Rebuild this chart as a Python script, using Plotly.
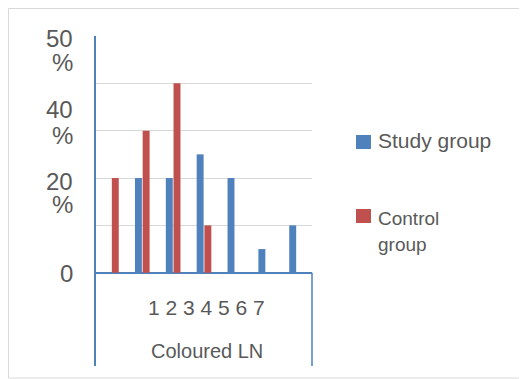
import plotly.graph_objects as go

# ---- data ----
categories = ["1", "2", "3", "4", "5", "6", "7"]
study_group = [0, 20, 20, 25, 20, 5, 10]
control_group = [20, 30, 40, 10, 0, 0, 0]
grid_values = [10, 20, 30, 40, 50]
x_title = "Coloured LN"
series_names = ["Study group", "Control<br>group"]

BLUE = "#4F81BD"
RED = "#C0504D"
TEXT = "#595959"
FONT = "Arial, Liberation Sans, sans-serif"

OFF = 8  # page body margin
W, H = 527 - OFF, 379 - OFF
# plot area in screen pixels: x 96..312, y 36..366
L, T = 96 - OFF, 36 - OFF
R = W - (312 - OFF)
B = H - (366 - OFF)
PW, PH = W - L - R, H - T - B


def px(x):
    return (x - OFF - L) / PW


def py(y):
    return (H - B - (y - OFF)) / PH


fig = go.Figure()
fig.add_trace(go.Bar(x=categories, y=study_group, name="Study group",
                     marker=dict(color=BLUE, line=dict(width=0))))
fig.add_trace(go.Bar(x=categories, y=control_group, name="Control group",
                     marker=dict(color=RED, line=dict(width=0))))

shapes = [
    # outer border
    dict(type="rect", xref="paper", yref="paper", x0=px(8.5), x1=px(545),
         y0=py(378), y1=py(8.5), line=dict(color="#D9D9D9", width=1), layer="below"),
    # right category divider line
    dict(type="line", xref="paper", yref="paper", x0=1, x1=1, y0=0, y1=py(272.7),
         line=dict(color=BLUE, width=1.5)),
    # legend squares
    dict(type="rect", xref="paper", yref="paper", x0=px(356), x1=px(371),
         y0=py(149), y1=py(135), fillcolor=BLUE, line=dict(width=0)),
    dict(type="rect", xref="paper", yref="paper", x0=px(356), x1=px(371),
         y0=py(223), y1=py(209), fillcolor=RED, line=dict(width=0)),
]

ylabel_lines = [("50", 38.5), ("%", 62.5), ("40", 109.5), ("%", 135.5),
                ("20", 181), ("%", 204.5), ("0", 273.5)]
annotations = []
for txt, yy in ylabel_lines:
    annotations.append(dict(text=txt, xref="paper", yref="paper", x=px(75), y=py(yy),
                            xanchor="right", yanchor="middle", showarrow=False,
                            font=dict(family=FONT, size=24, color=TEXT)))

annotations.append(dict(text=" ".join(categories), xref="paper", yref="paper",
                        x=px(206.5), y=py(307), xanchor="center", yanchor="middle",
                        showarrow=False, font=dict(family=FONT, size=21, color=TEXT)))
annotations.append(dict(text=x_title, xref="paper", yref="paper",
                        x=px(206.5), y=py(351), xanchor="center", yanchor="middle",
                        showarrow=False, font=dict(family=FONT, size=20, color=TEXT)))
# legend texts
annotations.append(dict(text=series_names[0], xref="paper", yref="paper",
                        x=px(376), y=py(140), xanchor="left", yanchor="middle",
                        showarrow=False, font=dict(family=FONT, size=21, color=TEXT)))
for txt, yy in zip(series_names[1].split("<br>"), [218, 244]):
    annotations.append(dict(text=txt, xref="paper", yref="paper",
                            x=px(376), y=py(yy), xanchor="left", yanchor="middle",
                            showarrow=False, font=dict(family=FONT, size=19, color=TEXT)))

fig.update_layout(
    width=W, height=H,
    margin=dict(l=L, r=R, t=T, b=B, pad=0),
    paper_bgcolor="white", plot_bgcolor="white",
    barmode="group", bargap=0.5, bargroupgap=0.1,
    showlegend=False,
    shapes=shapes, annotations=annotations,
    xaxis=dict(type="category", range=[-0.5, 6.5], showgrid=False, showline=False,
               showticklabels=False, ticks="", zeroline=False, fixedrange=True),
    yaxis=dict(range=[-19.7, 50], tickvals=grid_values, showticklabels=False,
               showgrid=True, gridcolor="#D9D9D9", gridwidth=1,
               zeroline=True, zerolinecolor=BLUE, zerolinewidth=1.5,
               showline=True, linecolor=BLUE, linewidth=1.5, ticks="", fixedrange=True),
)

fig.write_html("out.html", config={"displayModeBar": False})
